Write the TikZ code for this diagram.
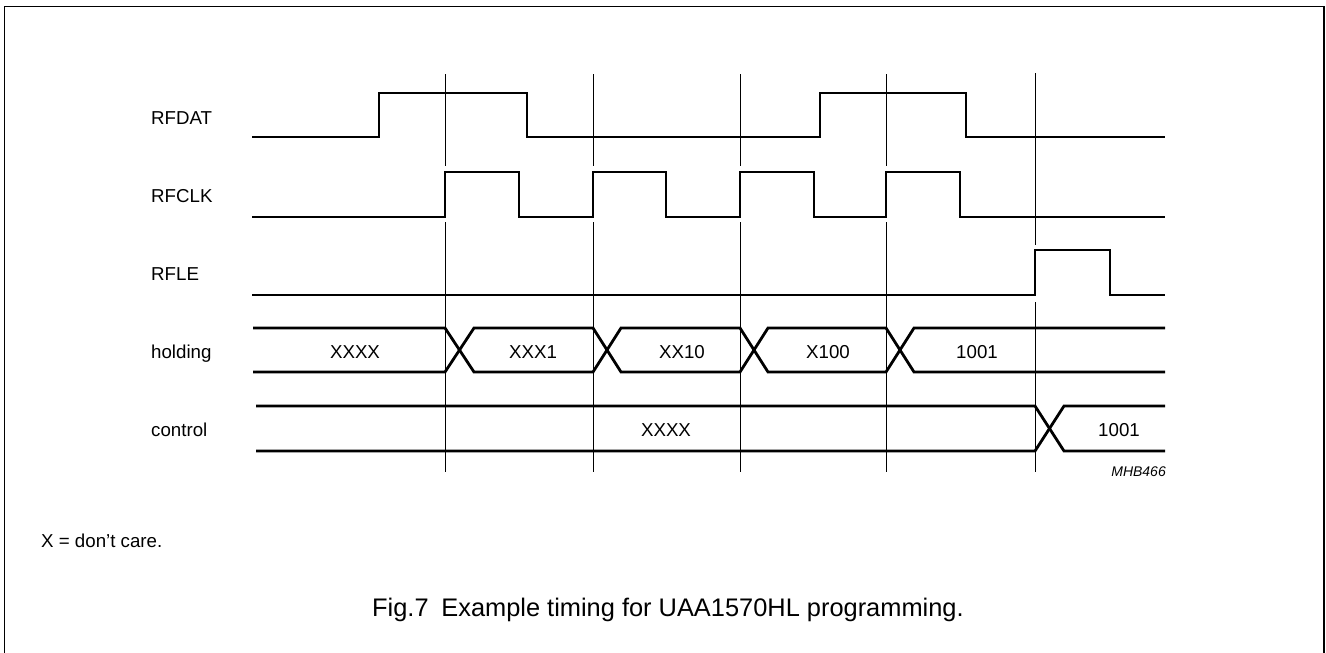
\documentclass[tikz,border=0pt]{standalone}
\usepackage{fontspec}
\setmainfont{Liberation Sans}
\begin{document}
\begin{tikzpicture}[x=1pt,y=-1pt,
  sig/.style={line width=2.8pt,line join=miter,line cap=butt},
  grid/.style={line width=0.9pt},
  frame/.style={line width=1.7pt},
  lbl/.style={anchor=base west,inner sep=0pt,font=\fontsize{18.7}{20}\selectfont},
  val/.style={anchor=base,inner sep=0pt,font=\fontsize{18.7}{20}\selectfont}]
\useasboundingbox (0,0) rectangle (1326,653);
% frame
\draw[frame] (4.5,653) -- (4.5,6.5) -- (1324,6.5) -- (1324,653);
% grid lines
\foreach \gx in {445,593,740,886}{
  \draw[grid] (\gx,74) -- (\gx,166);
  \draw[grid] (\gx,222) -- (\gx,472);
}
\draw[grid] (1035,73) -- (1035,245);
\draw[grid] (1035,302) -- (1035,472);
% labels
\node[lbl] (lrfdat) at (151,124) {RFDAT};
\node[lbl] (lrfclk) at (151,202) {RFCLK};
\node[lbl] (lrfle) at (151,280) {RFLE};
\node[lbl] (lhold) at (151,358) {holding};
\node[lbl] (lctrl) at (151,436) {control};
% RFDAT
\draw[sig] (252,137) -- (379,137) -- (379,93) -- (527,93) -- (527,137) -- (820,137) -- (820,93) -- (966,93) -- (966,137) -- (1165,137);
% RFCLK
\draw[sig] (252,217) -- (445,217) -- (445,172) -- (519,172) -- (519,217) -- (593,217) -- (593,172) -- (666,172) -- (666,217) -- (740,217) -- (740,172) -- (814,172) -- (814,217) -- (886,217) -- (886,172) -- (960,172) -- (960,217) -- (1165,217);
% RFLE
\draw[sig] (252,295) -- (1035,295) -- (1035,250) -- (1110,250) -- (1110,295) -- (1165,295);
% holding bus
\draw[sig] (253,328) -- (445,328) -- (474,372) -- (593,372) -- (621,328) -- (740,328) -- (768,372) -- (886,372) -- (914,328) -- (1165,328);
\draw[sig] (253,372) -- (445,372) -- (474,328) -- (593,328) -- (621,372) -- (740,372) -- (768,328) -- (886,328) -- (914,372) -- (1165,372);
% control bus
\draw[sig] (256,406) -- (1035,406) -- (1064,451) -- (1165,451);
\draw[sig] (256,451) -- (1035,451) -- (1064,406) -- (1165,406);
% bus values
\node[val] (h1) at (355,358) {XXXX};
\node[val] (h2) at (533,358) {XXX1};
\node[val] (h3) at (682,358) {XX10};
\node[val] (h4) at (828,358) {X100};
\node[val] (h5) at (977,358) {1001};
\node[val] (c1) at (666,436) {XXXX};
\node[val] (c2) at (1119,436) {1001};
% code
\node[anchor=base east,inner sep=0pt,font=\fontsize{14}{16}\selectfont\itshape] (code) at (1166,476) {MHB466};
% note and caption
\node[lbl] (note) at (41,547) {X = don’t care.};
\node[anchor=base west,inner sep=0pt,font=\fontsize{25.4}{28}\selectfont] (cap) at (372,616) {Fig.7\hspace{0.5em}Example timing for UAA1570HL programming.};
\end{tikzpicture}
\end{document}
